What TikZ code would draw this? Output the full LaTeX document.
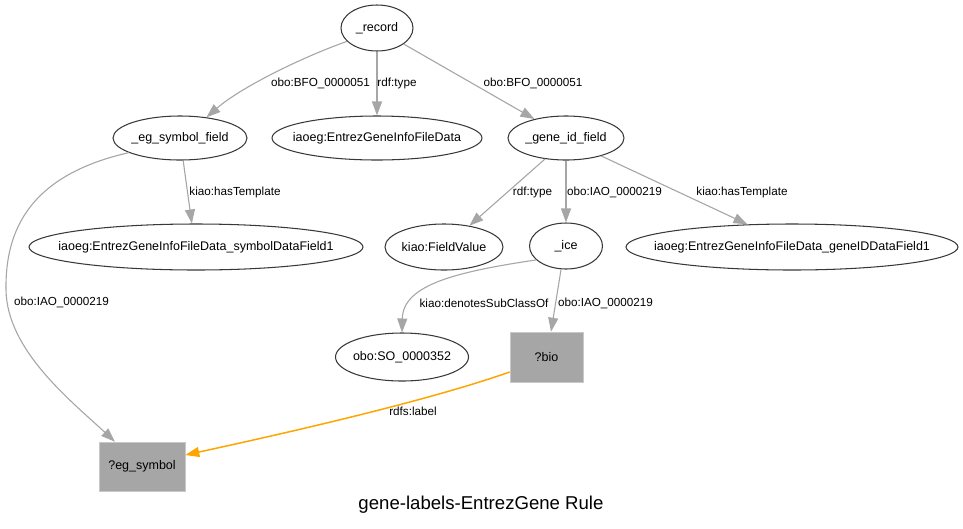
\documentclass[tikz,border=0pt]{standalone}
\usepackage{fontspec}
\setmainfont{Liberation Sans}
\usetikzlibrary{shapes.geometric,arrows.meta}
\definecolor{edgegray}{HTML}{A6A6A6}
\definecolor{nodeline}{HTML}{383838}
\definecolor{boxfill}{HTML}{A6A6A6}
\definecolor{boxline}{HTML}{C8C8C8}
\definecolor{orangeedge}{HTML}{FFA500}
\begin{document}
\begin{tikzpicture}[x=1pt,y=-1pt,
  ell/.style={ellipse, draw=nodeline, line width=1.05pt, inner sep=0pt, font=\fontsize{12.5}{14}\selectfont},
  vbox/.style={rectangle, fill=boxfill, draw=boxline, line width=0.6pt, inner sep=0pt, font=\fontsize{12.5}{14}\selectfont},
  edge/.style={draw=edgegray, line width=1.1pt, -{Triangle[length=14pt,width=10pt]}},
  oedge/.style={draw=orangeedge, line width=1.5pt, -{Triangle[length=14pt,width=10pt]}},
  elabel/.style={font=\fontsize{11.7}{13}\selectfont, inner sep=0pt},
]
\useasboundingbox (0,0) rectangle (963,528);
\node[ell, minimum width=72pt, minimum height=46pt] (rec) at (377,28) {\makebox[0pt]{\_record}};
\node[ell, minimum width=134pt, minimum height=44pt] (esf) at (180,138) {\makebox[0pt]{\_eg\_symbol\_field}};
\node[ell, minimum width=210pt, minimum height=44pt] (egifd) at (377,138) {\makebox[0pt]{iaoeg:EntrezGeneInfoFileData}};
\node[ell, minimum width=116pt, minimum height=44pt] (gid) at (566,138) {\makebox[0pt]{\_gene\_id\_field}};
\node[ell, minimum width=334pt, minimum height=46pt] (sdf) at (196,247) {\makebox[0pt]{iaoeg:EntrezGeneInfoFileData\_symbolDataField1}};
\node[ell, minimum width=118pt, minimum height=46pt] (fv) at (444,247) {\makebox[0pt]{kiao:FieldValue}};
\node[ell, minimum width=73pt, minimum height=46pt] (ice) at (566,246) {\makebox[0pt]{\_ice}};
\node[ell, minimum width=332pt, minimum height=46pt] (gdf) at (792,247) {\makebox[0pt]{iaoeg:EntrezGeneInfoFileData\_geneIDDataField1}};
\node[ell, minimum width=133pt, minimum height=48pt] (sso) at (402,357) {\makebox[0pt]{obo:SO\_0000352}};
\node[vbox, minimum width=73pt, minimum height=50pt] (bio) at (546.5,357) {?bio};
\node[vbox, minimum width=86pt, minimum height=49pt] (egs) at (142,466.5) {?eg\_symbol};

\draw[edge] (rec.204) .. controls (300,58) and (240,88) .. (esf.38);
\draw[edge] (rec) -- (egifd);
\draw[edge] (rec.329) -- (gid.149);
\draw[edge] (esf.278) -- (sdf.100);
\draw[edge] (esf.196) .. controls (30,175) and (5,230) .. (6,290) .. controls (7,350) and (70,400) .. ([xshift=-27pt]egs.north);
\draw[edge] (gid.225) -- (fv.40);
\draw[edge] (gid) -- (ice);
\draw[edge] (gid.333) -- (gdf.153);
\draw[edge] (ice.205) .. controls (455,272) and (403,285) .. (sso.north);
\draw[edge] (ice.258) -- ([xshift=4.5pt]bio.north);
\draw[oedge] ([yshift=-15pt]bio.west) .. controls (430,400) and (300,430) .. ([yshift=11.5pt]egs.east);

\node[elabel] (l1) at (320.5,83) {obo:BFO\_0000051};
\node[elabel] (l2) at (397,83) {rdf:type};
\node[elabel] (l3) at (533,83) {obo:BFO\_0000051};
\node[elabel] (l4) at (235,192) {kiao:hasTemplate};
\node[elabel] (l5) at (532.5,192) {rdf:type};
\node[elabel] (l6) at (614.5,192) {obo:IAO\_0000219};
\node[elabel] (l7) at (742,192) {kiao:hasTemplate};
\node[elabel] (l8) at (61.5,302) {obo:IAO\_0000219};
\node[elabel] (l9) at (484,303) {kiao:denotesSubClassOf};
\node[elabel] (l10) at (605.5,303) {obo:IAO\_0000219};
\node[elabel] (l11) at (413,411) {rdfs:label};

\node[font=\fontsize{18.6}{22}\selectfont, inner sep=0pt] (title) at (481,505) {gene-labels-EntrezGene Rule};
\end{tikzpicture}
\end{document}
